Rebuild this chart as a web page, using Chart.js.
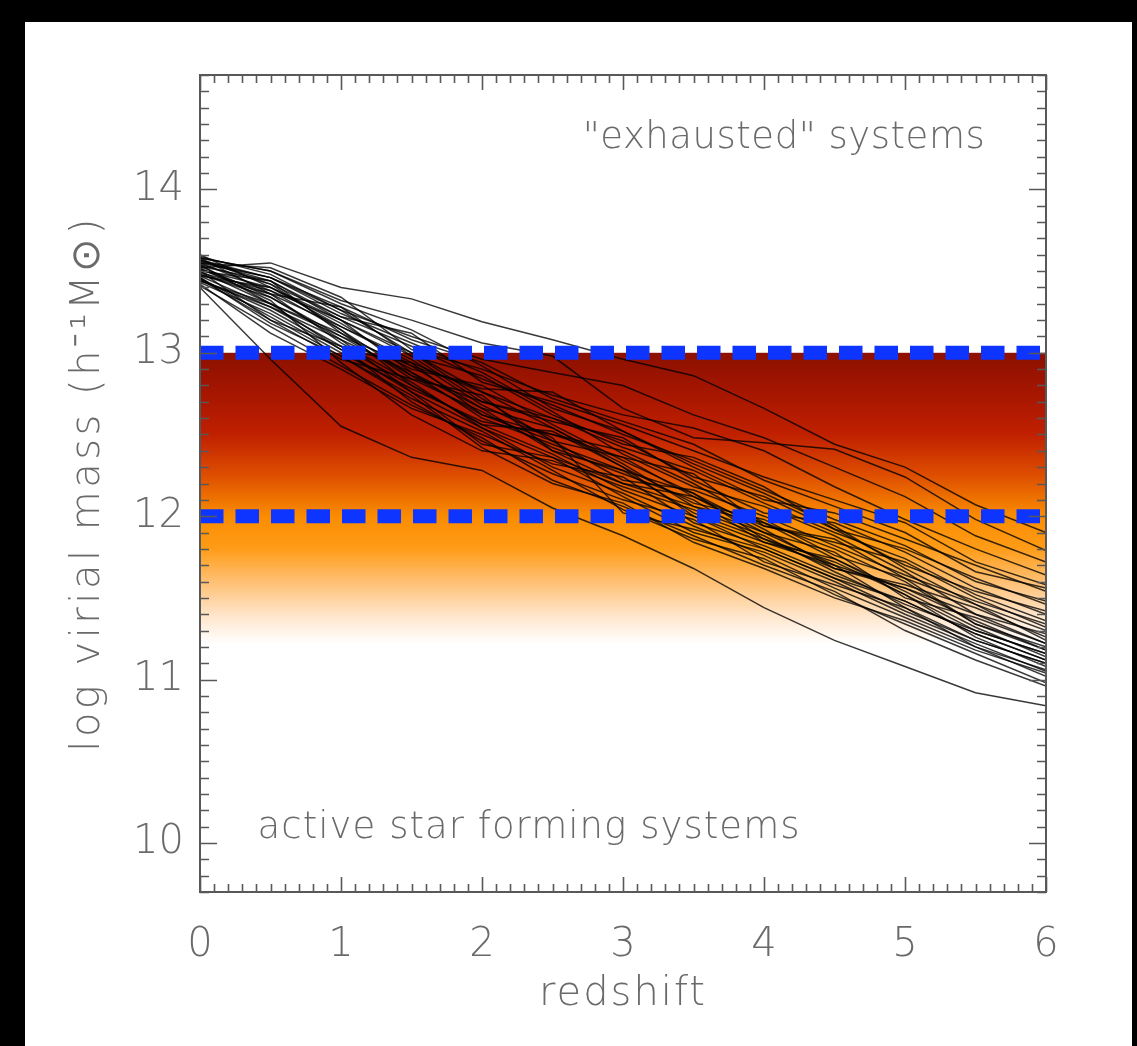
<!DOCTYPE html>
<html><head><meta charset="utf-8">
<script src="https://cdn.jsdelivr.net/npm/chart.js@4.4.1/dist/chart.umd.min.js"></script>
<style>
html,body{margin:0;padding:0;background:#000;width:1137px;height:1046px;overflow:hidden}
#wrap{position:absolute;left:25px;top:22px;width:1107px;height:1024px;background:#fff}
canvas{display:block}
</style></head><body><div id="wrap"><canvas id="c" width="1107" height="1024"></canvas></div>
<script>
// ---------- data ----------
const redshifts = [0,0.5,1,1.5,2,2.5,3,3.5,4,4.5,5,5.5,6];
const xTicks = [0,1,2,3,4,5,6];
const yTicks = [10,11,12,13,14];
const xRange = [0,6];
const yRange = [9.7,14.7];
const thresholds = [13,12];
const bandTop = 13;
const bandBottom = 11.22;

const track01 = [13.52,13.55,13.40,13.33,13.19,13.08,12.96,12.86,12.66,12.44,12.30,12.07,11.90];
const track02 = [13.58,13.50,13.32,13.20,13.06,12.98,12.66,12.48,12.45,12.41,12.24,11.98,11.79];
const track03 = [13.56,13.46,13.26,13.10,12.96,12.88,12.80,12.62,12.48,12.30,12.12,11.88,11.72];
const track04 = [13.55,13.52,13.34,13.02,12.90,12.74,12.62,12.54,12.40,12.18,11.98,11.80,11.64];
const track05 = [13.50,13.44,13.22,13.12,12.82,12.70,12.56,12.40,12.24,12.10,11.96,11.72,11.58];
const track06 = [13.60,13.40,13.18,12.92,12.78,12.76,12.52,12.30,12.10,12.02,11.86,11.70,11.54];
const track07 = [13.48,13.36,13.28,12.98,12.86,12.62,12.44,12.36,12.18,11.92,11.80,11.62,11.46];
const track08 = [13.54,13.30,13.10,12.86,12.70,12.58,12.48,12.22,12.02,11.96,11.78,11.56,11.40];
const track09 = [13.45,13.26,13.02,12.94,12.62,12.46,12.36,12.26,11.94,11.84,11.72,11.50,11.32];
const track10 = [13.57,13.42,13.14,12.80,12.56,12.52,12.30,12.08,11.98,11.76,11.62,11.46,11.24];
const track11 = [13.50,13.20,12.96,12.84,12.74,12.40,12.20,12.12,11.90,11.70,11.56,11.36,11.18];
const track12 = [13.42,13.12,12.90,12.66,12.50,12.32,12.24,11.96,11.82,11.64,11.48,11.28,11.12];
const track13 = [13.53,13.34,13.08,12.76,12.44,12.36,12.12,11.90,11.78,11.60,11.40,11.22,11.05];
const track14 = [13.46,13.18,12.98,12.72,12.52,12.28,12.04,11.86,11.74,11.52,11.34,11.16,10.98];
const track15 = [13.40,12.96,12.55,12.36,12.28,12.05,11.88,11.68,11.44,11.24,11.08,10.92,10.84];
const track16 = [13.55,13.46,13.24,13.06,12.88,12.64,12.38,12.18,12.06,11.88,11.66,11.40,11.22];
const track17 = [13.49,13.38,13.20,12.88,12.60,12.44,12.28,12.02,11.86,11.72,11.52,11.26,11.08];
const track18 = [13.58,13.50,13.30,13.14,12.92,12.66,12.52,12.32,12.14,11.94,11.68,11.46,11.30];
const track19 = [13.44,13.28,13.04,12.70,12.46,12.26,12.10,11.98,11.72,11.58,11.44,11.20,11.02];
const track20 = [13.52,13.32,12.94,12.62,12.40,12.34,12.18,12.04,11.88,11.66,11.46,11.30,11.16];
const track21 = [13.47,13.40,13.16,12.96,12.68,12.48,12.02,11.92,11.80,11.62,11.42,11.24,11.10];
const track22 = [13.56,13.44,13.12,12.90,12.80,12.56,12.34,12.14,11.92,11.68,11.58,11.44,11.26];
const track23 = [13.43,13.24,13.00,12.78,12.58,12.50,12.40,12.20,11.96,11.80,11.60,11.34,11.20];
const track24 = [13.51,13.36,13.06,12.82,12.54,12.30,12.14,11.94,11.76,11.56,11.38,11.20,11.06];
const track25 = [13.59,13.48,13.26,13.00,12.76,12.60,12.42,12.28,12.08,11.90,11.74,11.52,11.36];
const track26 = [13.41,13.16,12.92,12.68,12.48,12.22,12.06,11.88,11.70,11.54,11.30,11.12,10.96];
const track27 = [13.50,13.30,13.12,12.84,12.64,12.42,12.26,12.10,11.84,11.74,11.54,11.32,11.14];
const track28 = [13.54,13.42,13.22,13.04,12.84,12.68,12.50,12.34,12.16,11.98,11.82,11.60,11.48];
const track29 = [13.46,13.22,12.98,12.74,12.42,12.20,12.08,11.84,11.68,11.50,11.36,11.18,11.04];
const track30 = [13.57,13.46,13.28,13.08,12.94,12.72,12.58,12.44,12.22,12.06,11.90,11.66,11.56];
const track31 = [13.48,13.34,13.10,12.92,12.66,12.54,12.32,12.06,11.90,11.78,11.50,11.38,11.22];
const track32 = [13.53,13.44,13.20,13.00,12.72,12.46,12.22,12.16,12.00,11.82,11.64,11.48,11.34];
const track33 = [13.45,13.20,13.04,12.80,12.56,12.38,12.16,12.00,11.80,11.62,11.48,11.28,11.12];
const track34 = [13.55,13.38,13.14,12.86,12.62,12.50,12.36,12.12,11.94,11.86,11.62,11.34,11.18];
const track35 = [13.51,13.40,13.20,12.98,12.70,12.60,12.46,12.24,12.12,11.92,11.70,11.54,11.42];
const track36 = [13.47,13.28,13.08,12.88,12.66,12.40,12.28,12.14,11.86,11.68,11.56,11.40,11.28];
const track37 = [13.58,13.36,13.16,12.94,12.76,12.54,12.30,12.00,11.84,11.70,11.44,11.24,11.10];
const track38 = [13.44,13.30,13.02,12.76,12.54,12.36,12.20,12.06,11.96,11.74,11.52,11.30,11.16];

const tracks = [track01,track02,track03,track04,track05,track06,track07,track08,track09,track10,
  track11,track12,track13,track14,track15,track16,track17,track18,track19,track20,
  track21,track22,track23,track24,track25,track26,track27,track28,track29,track30,
  track31,track32,track33,track34,track35,track36,track37,track38];

const xTitle = 'redshift';
const yTitle = 'log virial mass (h\u207B\u00B9M\u2299)';
const noteTop = { text: '"exhausted" systems', x: 4.14, y: 14.31 };
const noteBottom = { text: 'active star forming systems', x: 2.33, y: 10.09 };

// ---------- styles ----------
const FONT = "'DejaVu Sans', sans-serif";
const TXT = '#6a6a6a';
const AXIS = '#585858';

const datasets = [];
thresholds.forEach(v => {
  datasets.push({
    data: xRange.map(z => ({x: z, y: v})),
    borderColor: 'rgb(14,52,255)', borderWidth: 14, borderDash: [23.5, 12],
    borderCapStyle: 'butt', pointRadius: 0, order: 0, fill: false
  });
});
tracks.forEach(t => {
  datasets.push({
    data: redshifts.map((z, i) => ({x: z, y: t[i]})),
    borderColor: 'rgba(0,0,0,0.78)', borderWidth: 1.5, pointRadius: 0,
    tension: 0, order: 1, fill: false
  });
});

const bandPlugin = {
  id: 'band',
  beforeDatasetsDraw(chart) {
    const {ctx, chartArea: a, scales: {y}} = chart;
    const y0 = y.getPixelForValue(bandTop), y1 = y.getPixelForValue(bandBottom);
    const g = ctx.createLinearGradient(0, y0, 0, y1);
    g.addColorStop(0.000, 'rgb(140,16,0)');
    g.addColorStop(0.140, 'rgb(166,22,0)');
    g.addColorStop(0.281, 'rgb(192,32,0)');
    g.addColorStop(0.421, 'rgb(222,78,0)');
    g.addColorStop(0.562, 'rgb(250,140,0)');
    g.addColorStop(0.674, 'rgb(255,156,24)');
    g.addColorStop(0.787, 'rgb(255,192,115)');
    g.addColorStop(0.899, 'rgb(255,228,200)');
    g.addColorStop(1.000, 'rgb(255,255,255)');
    ctx.save();
    ctx.fillStyle = g;
    ctx.fillRect(a.left, y0, a.right - a.left, y1 - y0);
    ctx.restore();
  }
};

// wider letter spacing for axis titles (the original uses a wide stroke font)
const titleSpacingPlugin = {
  id: 'titleSpacing',
  beforeDraw(chart) {
    [['x', '2px'], ['y', '3.5px']].forEach(([id, ls]) => {
      const s = chart.scales[id];
      if (s && !s._lsPatched) {
        const orig = s.drawTitle.bind(s);
        s.drawTitle = function () {
          const c = s.ctx; c.save(); c.letterSpacing = ls; orig(); c.restore();
        };
        s._lsPatched = true;
      }
    });
  }
};

const framePlugin = {
  id: 'frame',
  afterDraw(chart) {
    const {ctx, chartArea: a, scales: {x, y}} = chart;
    ctx.save();
    ctx.strokeStyle = AXIS;
    ctx.lineWidth = 1.6;
    ctx.beginPath();
    for (let k = 0; k <= 60; k++) {
      const v = xRange[0] + k * 0.1;
      const px = Math.round(x.getPixelForValue(v)) + 0.5;
      const len = (k % 10 === 0) ? 15 : 8;
      ctx.moveTo(px, a.bottom); ctx.lineTo(px, a.bottom - len);
      ctx.moveTo(px, a.top); ctx.lineTo(px, a.top + len);
    }
    for (let k = 0; k <= 50; k++) {
      const v = yRange[0] + k * 0.1;
      const py = Math.round(y.getPixelForValue(v)) + 0.5;
      const major = Math.abs(v - Math.round(v)) < 1e-6;
      const len = major ? 17 : 9;
      ctx.moveTo(a.left, py); ctx.lineTo(a.left + len, py);
      ctx.moveTo(a.right, py); ctx.lineTo(a.right - len, py);
    }
    ctx.stroke();
    ctx.lineWidth = 2;
    ctx.strokeRect(a.left, a.top, a.right - a.left, a.bottom - a.top);

    ctx.fillStyle = TXT;
    ctx.font = `200 37px ${FONT}`;
    ctx.textAlign = 'center';
    ctx.textBaseline = 'middle';
    const drawNote = (n, target) => {
      ctx.letterSpacing = '0px';
      const w = ctx.measureText(n.text).width;
      const ls = (target - w) / Math.max(1, n.text.length - 1);
      ctx.letterSpacing = ls.toFixed(2) + 'px';
      ctx.fillText(n.text, x.getPixelForValue(n.x) + ls / 2, y.getPixelForValue(n.y));
    };
    drawNote(noteTop, 402);
    drawNote(noteBottom, 542);
    ctx.letterSpacing = '0px';
    ctx.restore();
  }
};

const chart = new Chart(document.getElementById('c'), {
  type: 'line',
  data: { datasets },
  options: {
    responsive: false, animation: false,
    layout: { padding: { top: 53, right: 86, bottom: 0, left: 0 } },
    plugins: { legend: { display: false }, tooltip: { enabled: false } },
    elements: { point: { radius: 0 } },
    scales: {
      x: {
        type: 'linear', min: xRange[0], max: xRange[1],
        afterBuildTicks: s => { s.ticks = xTicks.map(v => ({value: v})); },
        afterFit: s => { s.height = 154; },
        grid: { display: false, drawTicks: false },
        border: { display: false },
        ticks: { color: TXT, padding: 30, font: { family: FONT, size: 40, weight: '200' }, callback: v => String(v) },
        title: { display: true, text: xTitle, color: TXT, font: { family: FONT, size: 40, weight: '200' }, padding: { top: 0, bottom: 27 } }
      },
      y: {
        type: 'linear', min: yRange[0], max: yRange[1],
        afterBuildTicks: s => { s.ticks = yTicks.map(v => ({value: v})); },
        afterFit: s => { s.width = 175; },
        grid: { display: false, drawTicks: false },
        border: { display: false },
        ticks: { color: TXT, padding: 16, font: { family: FONT, size: 40, weight: '200' }, callback: v => String(v) },
        title: { display: true, text: yTitle, color: TXT, font: { family: FONT, size: 40, weight: '200' }, padding: { top: 40, bottom: 0 } }
      }
    }
  },
  plugins: [bandPlugin, titleSpacingPlugin, framePlugin]
});
</script></body></html>
